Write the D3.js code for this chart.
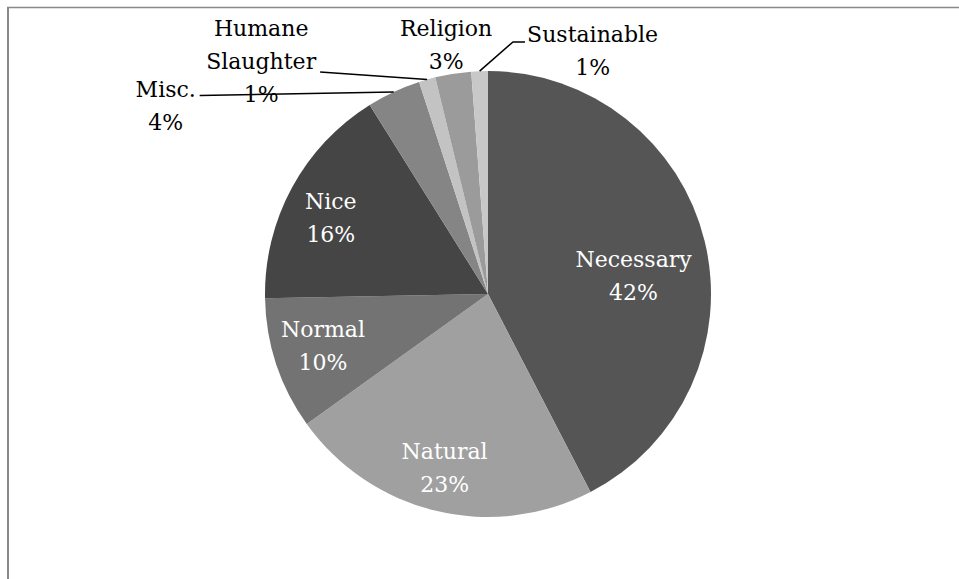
<!DOCTYPE html>
<html>
<head>
<meta charset="utf-8">
<script src="https://cdn.jsdelivr.net/npm/d3@7/dist/d3.min.js"></script>
<style>
  html, body { margin: 0; padding: 0; background: #fff; }
  svg { display: block; }
</style>
</head>
<body>
<svg id="chart" width="959" height="579"></svg>
<script>
// ---- data ----
const categories = ["Necessary", "Natural", "Normal", "Nice", "Misc.", "Humane Slaughter", "Religion", "Sustainable"];
const labelLines = [["Necessary"], ["Natural"], ["Normal"], ["Nice"], ["Misc."], ["Humane", "Slaughter"], ["Religion"], ["Sustainable"]];
const values = [42.4, 22.7, 9.6, 16.4, 3.9, 1.2, 2.6, 1.2];
const colors = ["#555555", "#a0a0a0", "#737373", "#454545", "#858585", "#c3c3c3", "#9b9b9b", "#c8c8c8"];

// ---- layout (not data) ----
const W = 959, H = 579;
const cx = 488, cy = 294, R = 223;
const fontSize = 22, lineH = 33;
// inside labels: offset of first baseline from label-arc centroid
const insideOffsets = {
  "Necessary": [-6, 10], "Natural": [-7, 13], "Normal": [-17, -6], "Nice": [-20, -11]
};
// outside labels: offset of first baseline from slice edge midpoint; leader points as offsets from edge
const outsideLayout = {
  "Misc.": { off: [-228, 5], leader: [[-194, 3.6]] },
  "Humane Slaughter": { off: [-166, -43.5], leader: [[-107, -7.5]] },
  "Religion": { off: [-7, -37.7], leader: null },
  "Sustainable": { off: [113, -29], leader: [[33.4, -29.2], [45.4, -29.2]] }
};

const svg = d3.select("#chart");

// frame
svg.append("line").attr("x1", 7).attr("y1", 7.5).attr("x2", W).attr("y2", 7.5)
  .attr("stroke", "#898989").attr("stroke-width", 1.5);
svg.append("line").attr("x1", 8).attr("y1", 7).attr("x2", 8).attr("y2", H)
  .attr("stroke", "#898989").attr("stroke-width", 2);

const pie = d3.pie().sort(null).value(d => d).startAngle(0).endAngle(2 * Math.PI);
const arcs = pie(values);
const arc = d3.arc().innerRadius(0).outerRadius(R);
const labelArc = d3.arc().innerRadius(156).outerRadius(156);
const edgeArc = d3.arc().innerRadius(R).outerRadius(R);

const g = svg.append("g").attr("transform", `translate(${cx},${cy})`);

g.selectAll("path.slice").data(arcs).join("path")
  .attr("class", "slice")
  .attr("d", arc)
  .attr("fill", (d, i) => colors[i]);

const fmt = v => Math.round(v) + "%";

arcs.forEach((d, i) => {
  const name = categories[i];
  const lines = labelLines[i].concat([fmt(values[i])]);
  let x, y, fill;
  if (insideOffsets[name]) {
    const c = labelArc.centroid(d);
    x = c[0] + insideOffsets[name][0];
    y = c[1] + insideOffsets[name][1];
    fill = "#ffffff";
  } else {
    const e = edgeArc.centroid(d);
    const L = outsideLayout[name];
    x = e[0] + L.off[0];
    y = e[1] + L.off[1];
    fill = "#000000";
    if (L.leader) {
      const pts = [e].concat(L.leader.map(p => [e[0] + p[0], e[1] + p[1]]));
      g.append("path")
        .attr("d", d3.line()(pts))
        .attr("fill", "none")
        .attr("stroke", "#000")
        .attr("stroke-width", 1.5);
    }
  }
  const t = g.append("text")
    .attr("x", x).attr("y", y)
    .attr("text-anchor", "middle")
    .attr("font-family", "'DejaVu Serif', serif")
    .attr("font-size", fontSize)
    .attr("fill", fill);
  lines.forEach((ln, j) => {
    t.append("tspan").attr("x", x).attr("y", y + j * lineH).text(ln);
  });
});
</script>
</body>
</html>
